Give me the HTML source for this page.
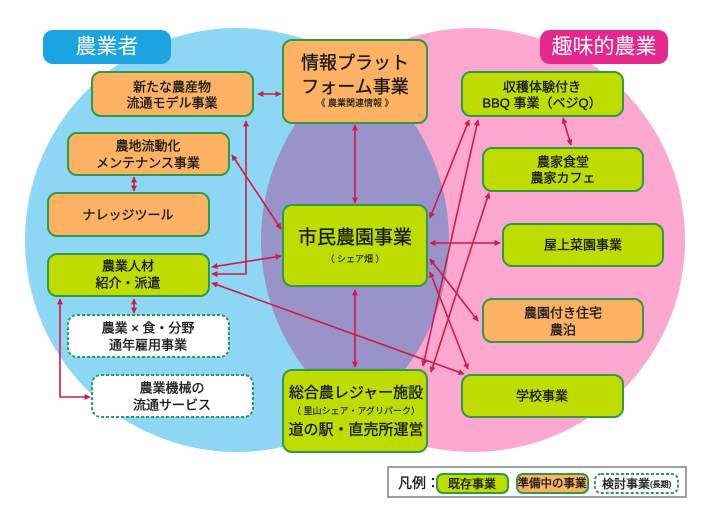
<!DOCTYPE html>
<html><head><meta charset="utf-8">
<style>
html,body{margin:0;padding:0;background:#fff;}
svg{display:block;}
text{font-family:"Liberation Sans","Noto Sans CJK JP",sans-serif;fill:#1a1a1a;}
.b text{stroke:#1a1a1a;stroke-width:0.35;}
</style></head><body>
<svg width="703" height="509" viewBox="0 0 703 509" xmlns="http://www.w3.org/2000/svg">
<defs>
<clipPath id="pinkclip"><circle cx="473" cy="240" r="212"/></clipPath>
<marker id="ah" viewBox="0 0 10 10" refX="9" refY="5" markerWidth="7" markerHeight="6" markerUnits="userSpaceOnUse" orient="auto-start-reverse">
<path d="M0,0 L10,5 L0,10 z" fill="#cf1b45"/>
</marker>
</defs>
<rect width="703" height="509" fill="#fff"/>
<circle cx="237" cy="240" r="212" fill="#8dd7f5"/>
<circle cx="473" cy="240" r="212" fill="#fba7cf"/>
<circle cx="237" cy="240" r="212" fill="#9a93c9" clip-path="url(#pinkclip)"/>

<!-- labels -->
<rect x="43" y="30" width="128" height="34" rx="10" fill="#1ba4df"/>
<text x="107" y="47" font-size="21" text-anchor="middle" dominant-baseline="central" style="fill:#fff">農業者</text>
<rect x="540" y="30" width="128" height="34" rx="10" fill="#e6288e"/>
<text x="604" y="47" font-size="21" text-anchor="middle" dominant-baseline="central" style="fill:#fff">趣味的農業</text>

<!-- arrows -->
<g stroke="#cf1b45" stroke-width="1.6" fill="none" marker-start="url(#ah)" marker-end="url(#ah)">
<line x1="258" y1="94" x2="281" y2="94"/>
<polyline points="246,121 246,274 212,274"/>
<line x1="232" y1="155" x2="281" y2="229"/>
<line x1="134" y1="177" x2="134" y2="191"/>
<line x1="212" y1="267" x2="281" y2="256"/>
<line x1="212" y1="283" x2="464" y2="374"/>
<line x1="134" y1="299" x2="134" y2="313"/>
<polyline points="60,299 60,397 90,397"/>
<line x1="355" y1="125" x2="355" y2="203"/>
<line x1="355" y1="290" x2="355" y2="367"/>
<line x1="430" y1="243" x2="500" y2="243"/>
<line x1="430" y1="218" x2="469" y2="120"/>
<line x1="478" y1="120" x2="423" y2="366"/>
<line x1="489" y1="193" x2="431" y2="372"/>
<line x1="430" y1="259" x2="478" y2="321"/>
<line x1="430" y1="272" x2="468" y2="369"/>
<line x1="563" y1="118" x2="571" y2="145"/>
</g>

<!-- boxes -->
<g stroke="#2f9a48" stroke-width="2">
<rect x="92" y="72" width="161" height="44" rx="9" fill="#fcb262"/>
<rect x="68" y="133" width="161" height="42" rx="9" fill="#fcb262"/>
<rect x="48" y="193" width="161" height="43" rx="9" fill="#fcb262"/>
<rect x="48" y="254" width="161" height="42" rx="9" fill="#bedc00"/>
<rect x="283" y="40" width="144" height="83" rx="9" fill="#fcb262"/>
<rect x="283" y="205" width="144" height="81" rx="9" fill="#bedc00"/>
<rect x="283" y="370" width="144" height="82" rx="9" fill="#bedc00"/>
<rect x="462" y="72" width="161" height="44" rx="9" fill="#bedc00"/>
<rect x="483" y="148" width="160" height="43" rx="9" fill="#bedc00"/>
<rect x="503" y="224" width="160" height="42" rx="9" fill="#bedc00"/>
<rect x="483" y="299" width="160" height="43" rx="9" fill="#fcb262"/>
<rect x="462" y="375" width="161" height="42" rx="9" fill="#bedc00"/>
</g>
<g stroke="#2a9a6a" stroke-width="2" stroke-dasharray="3 2" fill="#fff">
<rect x="68" y="315" width="161" height="42" rx="9"/>
<rect x="92" y="375" width="161" height="42" rx="9"/>
</g>

<g class="b" font-size="13" text-anchor="middle" dominant-baseline="central">
<text x="172" y="87">新たな農産物</text>
<text x="172" y="103">流通モデル事業</text>
<text x="148" y="146">農地流動化</text>
<text x="148" y="163">メンテナンス事業</text>
<text x="128" y="215">ナレッジツール</text>
<text x="128" y="266">農業人材</text>
<text x="128" y="283">紹介・派遣</text>
<text x="148" y="328">農業 × 食・分野</text>
<text x="148" y="345">通年雇用事業</text>
<text x="172" y="388">農業機械の</text>
<text x="172" y="405">流通サービス</text>
<text x="542" y="87">収穫体験付き</text>
<text x="542" y="103">BBQ 事業（ベジQ）</text>
<text x="563" y="162">農家食堂</text>
<text x="563" y="178">農家カフェ</text>
<text x="583" y="245">屋上菜園事業</text>
<text x="563" y="313">農園付き住宅</text>
<text x="563" y="330">農泊</text>
<text x="542" y="396">学校事業</text>
</g>

<g class="b" text-anchor="middle" dominant-baseline="central">
<text x="355" y="63" font-size="18">情報プラット</text>
<text x="355" y="87" font-size="18">フォーム事業</text>
<text x="355" y="103" font-size="9" style="stroke-width:0.15">《 農業関連情報 》</text>
<text x="355" y="238" font-size="19">市民農園事業</text>
<text x="355" y="259" font-size="9" style="stroke-width:0.15">（ シェア畑 ）</text>
<text x="356" y="393" font-size="15">総合農レジャー施設</text>
<text x="356" y="411" font-size="9" style="stroke-width:0.15">（ 里山シェア・アグリパーク）</text>
<text x="356" y="430" font-size="15">道の駅・直売所運営</text>
</g>

<!-- legend -->
<rect x="388" y="467" width="298" height="30" fill="#fff" stroke="#808080" stroke-width="1.5"/>
<g class="b">
<text x="398" y="483" font-size="14" dominant-baseline="central">凡例：</text>
</g>
<rect x="437" y="474" width="71" height="19" rx="6" fill="#bedc00" stroke="#2f9a48" stroke-width="2"/>
<rect x="517" y="474" width="71" height="19" rx="6" fill="#fcb262" stroke="#2f9a48" stroke-width="2"/>
<rect x="595" y="474" width="83" height="19" rx="6" fill="#fff" stroke="#2a9a6a" stroke-width="2" stroke-dasharray="3 2"/>
<g class="b">
<text x="472" y="484" font-size="12" text-anchor="middle" dominant-baseline="central">既存事業</text>
<text x="552" y="484" font-size="11.5" text-anchor="middle" dominant-baseline="central">準備中の事業</text>
<text x="602" y="484" font-size="12" dominant-baseline="central">検討事業<tspan font-size="8">(長期)</tspan></text>
</g>
</svg>
</body></html>
